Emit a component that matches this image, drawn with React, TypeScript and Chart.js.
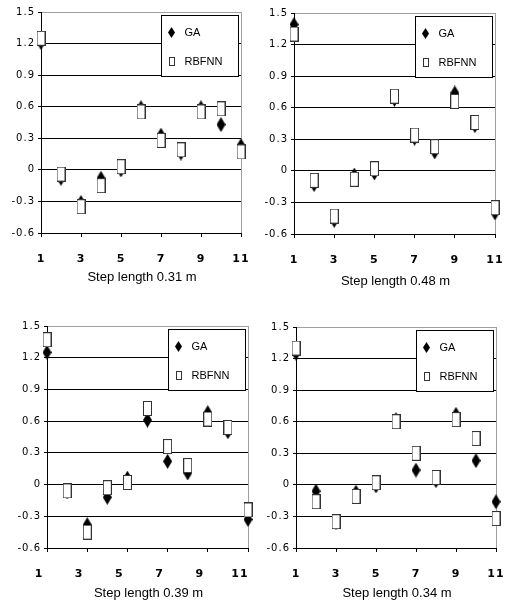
import React, { useEffect, useRef } from 'react';
import { Chart, registerables } from 'chart.js';

Chart.register(...registerables);

// ---------- data ----------
const steps = [1, 2, 3, 4, 5, 6, 7, 8, 9, 10, 11];
const xTickValues = [1, 3, 5, 7, 9, 11];
const yTickValues = [-0.6, -0.3, 0, 0.3, 0.6, 0.9, 1.2, 1.5];
const yTickLabels = ['-0.6', '-0.3', '0', '0.3', '0.6', '0.9', '1.2', '1.5'];
const seriesNames = ['GA', 'RBFNN'];

const ga031 = [1.21, -0.08, -0.31, -0.08, 0.0, 0.59, 0.33, 0.16, 0.59, 0.43, 0.23];
const rbf031 = [1.25, -0.04, -0.35, -0.15, 0.03, 0.55, 0.28, 0.19, 0.55, 0.58, 0.17];

const ga048 = [1.39, -0.13, -0.47, -0.04, -0.02, 0.68, 0.31, 0.18, 0.74, 0.43, -0.4];
const rbf048 = [1.3, -0.09, -0.43, -0.08, 0.02, 0.71, 0.34, 0.23, 0.66, 0.46, -0.35];

const ga039 = [1.25, -0.07, -0.38, -0.12, 0.06, 0.61, 0.22, 0.11, 0.68, 0.5, -0.33];
const rbf039 = [1.37, -0.06, -0.45, -0.03, 0.02, 0.72, 0.36, 0.18, 0.62, 0.54, -0.24];

const ga034 = [1.25, -0.06, -0.36, -0.07, -0.01, 0.62, 0.14, 0.04, 0.67, 0.23, -0.16];
const rbf034 = [1.3, -0.16, -0.35, -0.11, 0.02, 0.6, 0.3, 0.07, 0.62, 0.44, -0.32];

const titles = ['Step length 0.31 m', 'Step length 0.48 m', 'Step length 0.39 m', 'Step length 0.34 m'];

// ---------- layout ----------
type Layout = {
  left: number; top: number; w: number; h: number;
  plotL: number; plotR: number; plotT: number; plotB: number;
  labelOffset: number; titleDy: number;
};

const panels: { title: string; ga: number[]; rbf: number[]; L: Layout }[] = [
  { title: titles[0], ga: ga031, rbf: rbf031, L: { left: 0, top: 0, w: 254, h: 290, plotL: 41, plotR: 241, plotT: 12, plotB: 233, labelOffset: 0, titleDy: 48 } },
  { title: titles[1], ga: ga048, rbf: rbf048, L: { left: 254, top: 0, w: 254, h: 290, plotL: 40, plotR: 241, plotT: 13, plotB: 234, labelOffset: 0, titleDy: 51 } },
  { title: titles[2], ga: ga039, rbf: rbf039, L: { left: 0, top: 300, w: 254, h: 302, plotL: 47, plotR: 248, plotT: 26, plotB: 248, labelOffset: -8, titleDy: 49 } },
  { title: titles[3], ga: ga034, rbf: rbf034, L: { left: 254, top: 300, w: 254, h: 302, plotL: 42, plotR: 242, plotT: 27, plotB: 248, labelOffset: 0, titleDy: 49 } },
];

// ---------- markers ----------
function makeDiamond(w: number, h: number) {
  const c = document.createElement('canvas');
  c.width = w; c.height = h;
  const g = c.getContext('2d')!;
  g.fillStyle = '#000';
  g.beginPath();
  g.moveTo(w / 2, 0);
  g.lineTo(w, h / 2);
  g.lineTo(w / 2, h);
  g.lineTo(0, h / 2);
  g.closePath();
  g.fill();
  return c;
}
function makeBox(w: number, h: number) {
  const c = document.createElement('canvas');
  c.width = w; c.height = h;
  const g = c.getContext('2d')!;
  g.fillStyle = '#fff';
  g.fillRect(0, 0, w, h);
  g.strokeStyle = '#333';
  g.lineWidth = 1;
  g.strokeRect(0.5, 0.5, w - 1, h - 1);
  return c;
}

const SANS = '"Liberation Sans", Arial, Helvetica, sans-serif';
const TICKFONT = '"DejaVu Sans", Verdana, sans-serif';

function Panel({ title, ga, rbf, L }: { title: string; ga: number[]; rbf: number[]; L: Layout }) {
  const ref = useRef<HTMLCanvasElement>(null);
  useEffect(() => {
    const canvas = ref.current!;
    const diamond = makeDiamond(9, 15);
    const box = makeBox(9, 15);
    const legDiamond = makeDiamond(7, 11);
    const legBox = makeBox(6, 9);

    const framePlugin = {
      id: 'frame',
      beforeDraw(chart: any) {
        try { chart.ctx.letterSpacing = '1px'; } catch (e) { }
      },
      beforeDatasetsDraw(chart: any) {
        const { ctx, chartArea: ca } = chart;
        ctx.save();
        const x = Math.round(ca.right + 0.5) - 0.5;
        ctx.strokeStyle = '#a0a0a0';
        ctx.lineWidth = 1;
        ctx.beginPath();
        ctx.moveTo(x, ca.top);
        ctx.lineTo(x, ca.bottom);
        ctx.stroke();
        ctx.restore();
      },
      afterDraw(chart: any) {
        const { ctx, chartArea: ca } = chart;
        ctx.save();
        try { ctx.letterSpacing = '0px'; } catch (e) { }
        // axis title
        ctx.fillStyle = '#000';
        ctx.font = `13px ${SANS}`;
        ctx.textAlign = 'center';
        ctx.textBaseline = 'alphabetic';
        ctx.fillText(title, (ca.left + ca.right) / 2 + 1, ca.bottom + L.titleDy);
        // legend
        const bw = 77, bh = 61;
        const bx = Math.round(ca.right - 80) + 0.5;
        const by = Math.round(ca.top + 3) + 0.5;
        ctx.fillStyle = '#fff';
        ctx.fillRect(bx, by, bw, bh);
        ctx.strokeStyle = '#000';
        ctx.lineWidth = 1;
        ctx.strokeRect(bx, by, bw, bh);
        const ix = bx + 10;
        const rows = [by + 17, by + 46];
        ctx.drawImage(legDiamond, Math.round(ix - legDiamond.width / 2), Math.round(rows[0] - legDiamond.height / 2));
        ctx.drawImage(legBox, Math.round(ix - legBox.width / 2), Math.round(rows[1] - legBox.height / 2));
        ctx.fillStyle = '#000';
        ctx.font = `11px ${SANS}`;
        ctx.textAlign = 'left';
        ctx.textBaseline = 'middle';
        ctx.fillText(seriesNames[0], bx + 23, rows[0]);
        ctx.fillText(seriesNames[1], bx + 23, rows[1]);
        ctx.restore();
      },
    };

    const zeroPad = (s: any) => { s.paddingLeft = 0; s.paddingRight = 0; s.paddingTop = 0; s.paddingBottom = 0; };

    const chart = new Chart(canvas, {
      type: 'scatter',
      data: {
        datasets: [
          {
            label: seriesNames[0],
            data: steps.map((s, i) => ({ x: s, y: ga[i] })),
            pointStyle: diamond as any,
            pointRadius: 5,
            order: 1,
            clip: false as any,
            showLine: false,
          },
          {
            label: seriesNames[1],
            data: steps.map((s, i) => ({ x: s, y: rbf[i] })),
            pointStyle: box as any,
            pointRadius: 5,
            order: 0,
            clip: false as any,
            showLine: false,
          },
        ],
      },
      options: {
        animation: false,
        responsive: false,
        maintainAspectRatio: false,
        events: [],
        layout: { padding: { left: 0, top: L.plotT, right: L.w - L.plotR, bottom: 0 } },
        plugins: { legend: { display: false }, tooltip: { enabled: false }, title: { display: false } },
        scales: {
          x: {
            type: 'linear',
            min: 1,
            max: 11,
            afterBuildTicks: (s: any) => { s.ticks = xTickValues.map((v) => ({ value: v })); },
            afterFit: (s: any) => { s.height = L.h - L.plotB; zeroPad(s); },
            grid: { drawOnChartArea: false, drawTicks: true, tickLength: 4, color: '#000', tickColor: '#000', lineWidth: 1 },
            border: { display: true, color: '#000', width: 1 },
            ticks: {
              autoSkip: false,
              maxRotation: 0,
              minRotation: 0,
              padding: 16,
              labelOffset: L.labelOffset,
              color: '#000',
              font: { family: TICKFONT, size: 11, weight: 'bold' },
              callback: (v: any) => String(v),
            },
          },
          y: {
            type: 'linear',
            min: -0.6,
            max: 1.5,
            afterBuildTicks: (s: any) => { s.ticks = yTickValues.map((v) => ({ value: v })); },
            afterFit: (s: any) => { s.width = L.plotL; zeroPad(s); },
            grid: {
              color: (c: any) => (c.tick && c.tick.value === 1.5 ? '#a0a0a0' : '#000'),
              tickColor: '#000',
              tickLength: 3,
              drawTicks: true,
              lineWidth: 1,
            },
            border: { display: true, color: '#000', width: 1 },
            ticks: {
              padding: 3,
              color: '#000',
              font: { family: TICKFONT, size: 10 },
              callback: (_v: any, i: number) => yTickLabels[i],
            },
          },
        },
      } as any,
      plugins: [framePlugin],
    });
    return () => chart.destroy();
  }, [title, ga, rbf, L]);

  return (
    <canvas
      ref={ref}
      width={L.w}
      height={L.h}
      style={{ position: 'absolute', left: L.left, top: L.top, width: L.w, height: L.h }}
    />
  );
}

export default function App() {
  return (
    <div style={{ position: 'absolute', left: 0, top: 0, width: 508, height: 602, background: '#fff', overflow: 'hidden' }}>
      {panels.map((p, i) => (
        <Panel key={i} title={p.title} ga={p.ga} rbf={p.rbf} L={p.L} />
      ))}
    </div>
  );
}
